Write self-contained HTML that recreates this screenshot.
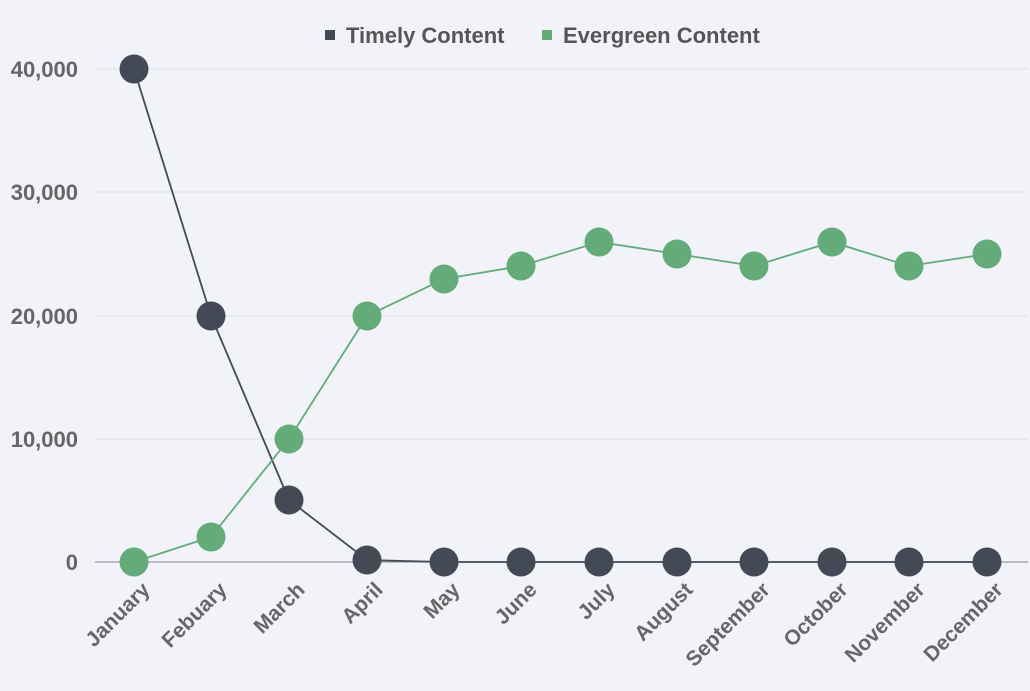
<!DOCTYPE html>
<html><head><style>
body{margin:0;background:#f1f3f8;}
svg{display:block;font-family:"Liberation Sans",sans-serif;font-weight:bold;}
</style></head><body>
<svg width="1030" height="691" viewBox="0 0 1030 691">
<rect width="1030" height="691" fill="#f1f3f8"/>
<g stroke="#dcdfe5" stroke-width="1">
<line x1="95" x2="1028" y1="69" y2="69"/>
<line x1="95" x2="1028" y1="192" y2="192"/>
<line x1="95" x2="1028" y1="316" y2="316"/>
<line x1="95" x2="1028" y1="439" y2="439"/>
</g>
<line x1="95" x2="1028" y1="562" y2="562" stroke="#9a9ca3" stroke-width="1.2"/>
<g fill="#666" font-size="22" text-anchor="end">
<text x="78" y="77">40,000</text>
<text x="78" y="200">30,000</text>
<text x="78" y="324">20,000</text>
<text x="78" y="447">10,000</text>
<text x="78" y="570">0</text>
</g>
<g fill="#666" font-size="21" text-anchor="end">
<text transform="translate(151,591) rotate(-45)">January</text>
<text transform="translate(228,591) rotate(-45)">Febuary</text>
<text transform="translate(306,591) rotate(-45)">March</text>
<text transform="translate(384,591) rotate(-45)">April</text>
<text transform="translate(461,591) rotate(-45)">May</text>
<text transform="translate(538,591) rotate(-45)">June</text>
<text transform="translate(616,591) rotate(-45)">July</text>
<text transform="translate(694,591) rotate(-45)">August</text>
<text transform="translate(771,591) rotate(-45)">September</text>
<text transform="translate(849,591) rotate(-45)">October</text>
<text transform="translate(926,591) rotate(-45)">November</text>
<text transform="translate(1004,591) rotate(-45)">December</text>
</g>
<polyline fill="none" stroke="#444a55" stroke-width="1.8" points="134,69 211,316 289,500 367,560 444,562 521,562 599,562 677,562 754,562 832,562 909,562 987,562"/>
<polyline fill="none" stroke="#63ab78" stroke-width="1.8" points="134,562 211,537 289,439 367,316 444,279 521,266 599,242 677,254 754,266 832,242 909,266 987,254"/>
<g fill="#63ab78">
<circle cx="134" cy="562" r="14.5"/><circle cx="211" cy="537" r="14.5"/><circle cx="289" cy="439" r="14.5"/><circle cx="367" cy="316" r="14.5"/><circle cx="444" cy="279" r="14.5"/><circle cx="521" cy="266" r="14.5"/><circle cx="599" cy="242" r="14.5"/><circle cx="677" cy="254" r="14.5"/><circle cx="754" cy="266" r="14.5"/><circle cx="832" cy="242" r="14.5"/><circle cx="909" cy="266" r="14.5"/><circle cx="987" cy="254" r="14.5"/>
</g>
<g fill="#444a55">
<circle cx="134" cy="69" r="14.5"/><circle cx="211" cy="316" r="14.5"/><circle cx="289" cy="500" r="14.5"/><circle cx="367" cy="560" r="14.5"/><circle cx="444" cy="562" r="14.5"/><circle cx="521" cy="562" r="14.5"/><circle cx="599" cy="562" r="14.5"/><circle cx="677" cy="562" r="14.5"/><circle cx="754" cy="562" r="14.5"/><circle cx="832" cy="562" r="14.5"/><circle cx="909" cy="562" r="14.5"/><circle cx="987" cy="562" r="14.5"/>
</g>
<rect x="325" y="30" width="10" height="10" fill="#444a55"/>
<text x="346" y="43" font-size="22" fill="#555">Timely Content</text>
<rect x="542" y="30" width="10" height="10" fill="#63ab78"/>
<text x="563" y="43" font-size="22" fill="#555">Evergreen Content</text>
</svg>
</body></html>
